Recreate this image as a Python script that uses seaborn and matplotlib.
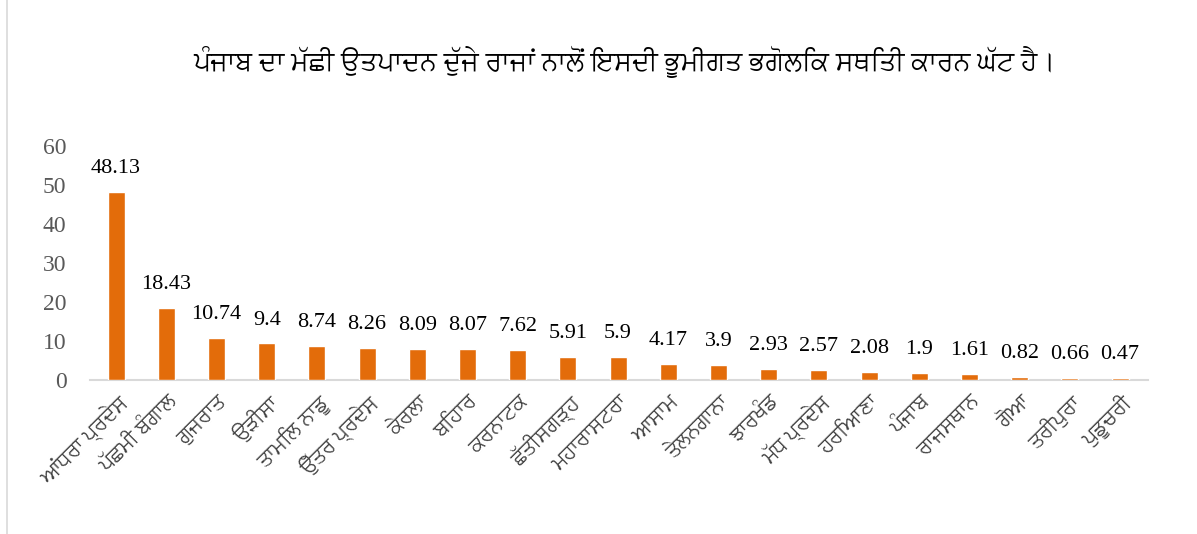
import seaborn as sns
import matplotlib.pyplot as plt
import pandas as pd
from matplotlib.patches import Rectangle

states = ['ਆਂਧਰਾ ਪ੍ਰਦੇਸ', 'ਪੱਛਮੀ ਬੰਗਾਲ', 'ਗੁਜਰਾਤ', 'ਉੜੀਸਾ', 'ਤਾਮਿਲ ਨਾਡੂ', 'ਉੱਤਰ ਪ੍ਰਦੇਸ',
          'ਕੇਰਲਾ', 'ਬਿਹਾਰ', 'ਕਰਨਾਟਕ', 'ਛੱਤੀਸਗੜ੍ਹ', 'ਮਹਾਰਾਸਟਰਾ', 'ਆਸਾਮ', 'ਤੇਲਨਗਾਨਾ',
          'ਝਾਰਖੰਡ', 'ਮੱਧ ਪ੍ਰਦੇਸ', 'ਹਰਿਆਣਾ', 'ਪੰਜਾਬ', 'ਰਾਜਸਥਾਨ', 'ਗੋਆ', 'ਤਰੀਪੁਰਾ', 'ਪੁਡੂਚਰੀ']
production = [48.13, 18.43, 10.74, 9.4, 8.74, 8.26, 8.09, 8.07, 7.62, 5.91, 5.9,
              4.17, 3.9, 2.93, 2.57, 2.08, 1.9, 1.61, 0.82, 0.66, 0.47]
yticks = [0, 10, 20, 30, 40, 50, 60]
title = 'ਪੰਜਾਬ ਦਾ ਮੱਛੀ ਉਤਪਾਦਨ ਦੁੱਜੇ ਰਾਜਾਂ ਨਾਲੋਂ ਇਸਦੀ ਭੂਮੀਗਤ ਭਗੋਲਿਕ ਸਥਿਤੀ ਕਾਰਨ ਘੱਟ ਹੈ।'

df = pd.DataFrame({'state': states, 'value': production})

sns.set_style('white')
plt.rcParams['font.family'] = ['FreeSans', 'DejaVu Sans']

fig = plt.figure(figsize=(11.97, 5.34), dpi=100)
ax = fig.add_axes([0.0752, 0.288, 0.884, 0.439])
sns.barplot(x='state', y='value', data=df, color='#E36C0A', width=0.34, saturation=1, ax=ax, zorder=3)

for i, v in enumerate(production):
    ax.text(i, v + 6.0, f'{v:g}', ha='center', va='center', fontsize=16,
            family=['Liberation Serif'], color='black')

ax.set_ylim(0, 60)
ax.set_yticks(yticks)
ax.set_yticklabels([str(t) for t in yticks], family=['Liberation Serif'], fontsize=17, color='#595959')
ax.set_xlim(-0.52, len(states) - 0.44)
ax.tick_params(axis='both', length=0)
ax.tick_params(axis='y', pad=17)
ax.tick_params(axis='x', pad=8)
plt.setp(ax.get_xticklabels(), rotation=45, ha='right', rotation_mode='anchor',
         fontsize=15, color='#404040')
ax.set_xlabel('')
ax.set_ylabel('')
for s in ['top', 'right', 'left']:
    ax.spines[s].set_visible(False)
ax.spines['bottom'].set_color('#D9D9D9')
ax.spines['bottom'].set_linewidth(1.5)
ax.spines['bottom'].set_zorder(1)

fig.text(0.522, 0.884, title, ha='center', va='center', fontsize=19.3, color='black')
fig.patches.append(Rectangle((0.006, -0.01), 1.0, 1.02, transform=fig.transFigure,
                             fill=False, edgecolor='#D9D9D9', linewidth=1.2))

fig.savefig('out.png', dpi=100)
